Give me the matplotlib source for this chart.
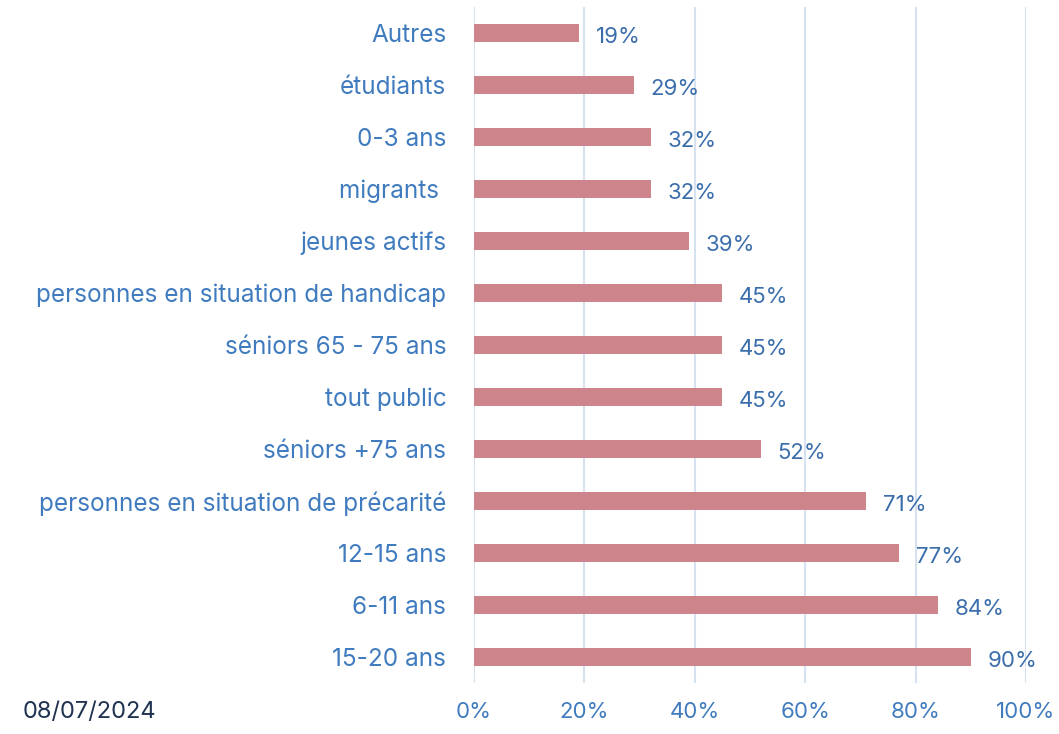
import matplotlib.pyplot as plt
import numpy as np

plt.rcParams['font.family'] = ['Inter', 'DejaVu Sans']

# Données (de bas en haut)
categories = ['15-20 ans', '6-11 ans', '12-15 ans',
              'personnes en situation de précarité', 'séniors +75 ans',
              'tout public', 'séniors 65 - 75 ans',
              'personnes en situation de handicap', 'jeunes actifs',
              'migrants ', '0-3 ans', 'étudiants', 'Autres']
values = [90, 84, 77, 71, 52, 45, 45, 45, 39, 32, 32, 29, 19]
xticks = [0, 20, 40, 60, 80, 100]

bar_color = '#CD848B'
tick_color = '#3F7BBE'
label_color = '#3A6DAB'
grid_color = '#D6E2F0'
fs = 16

fig = plt.figure(figsize=(10.59, 7.34), dpi=100)
ax = fig.add_axes([0.4476, 0.0695, 0.5212, 0.921])

y = np.arange(len(categories))
ax.barh(y, values, height=0.35, color=bar_color, zorder=3)

# Étiquettes de valeurs
for yi, v in zip(y, values):
    ax.annotate(f"{v}%", (v, yi), xytext=(12, -3), textcoords='offset points',
                va='center', ha='left', fontsize=fs, color=label_color)

ax.set_xlim(0, 100)
ax.set_ylim(-0.5, len(categories) - 0.5)
ax.set_xticks(xticks)
ax.set_xticklabels([f"{t}%" for t in xticks])
ax.set_yticks(y)
ax.set_yticklabels(categories)
ax.tick_params(axis='both', length=0, labelsize=fs, labelcolor=tick_color)
ax.tick_params(axis='y', pad=20, labelsize=17.5)
ax.tick_params(axis='x', pad=14)
ax.xaxis.grid(True, color=grid_color, linewidth=1.5, zorder=0)
for s in ax.spines.values():
    s.set_visible(False)

fig.text(0.021, 0.022, '08/07/2024', fontsize=17, color='#1F3250')

fig.savefig('out.png', dpi=100)
